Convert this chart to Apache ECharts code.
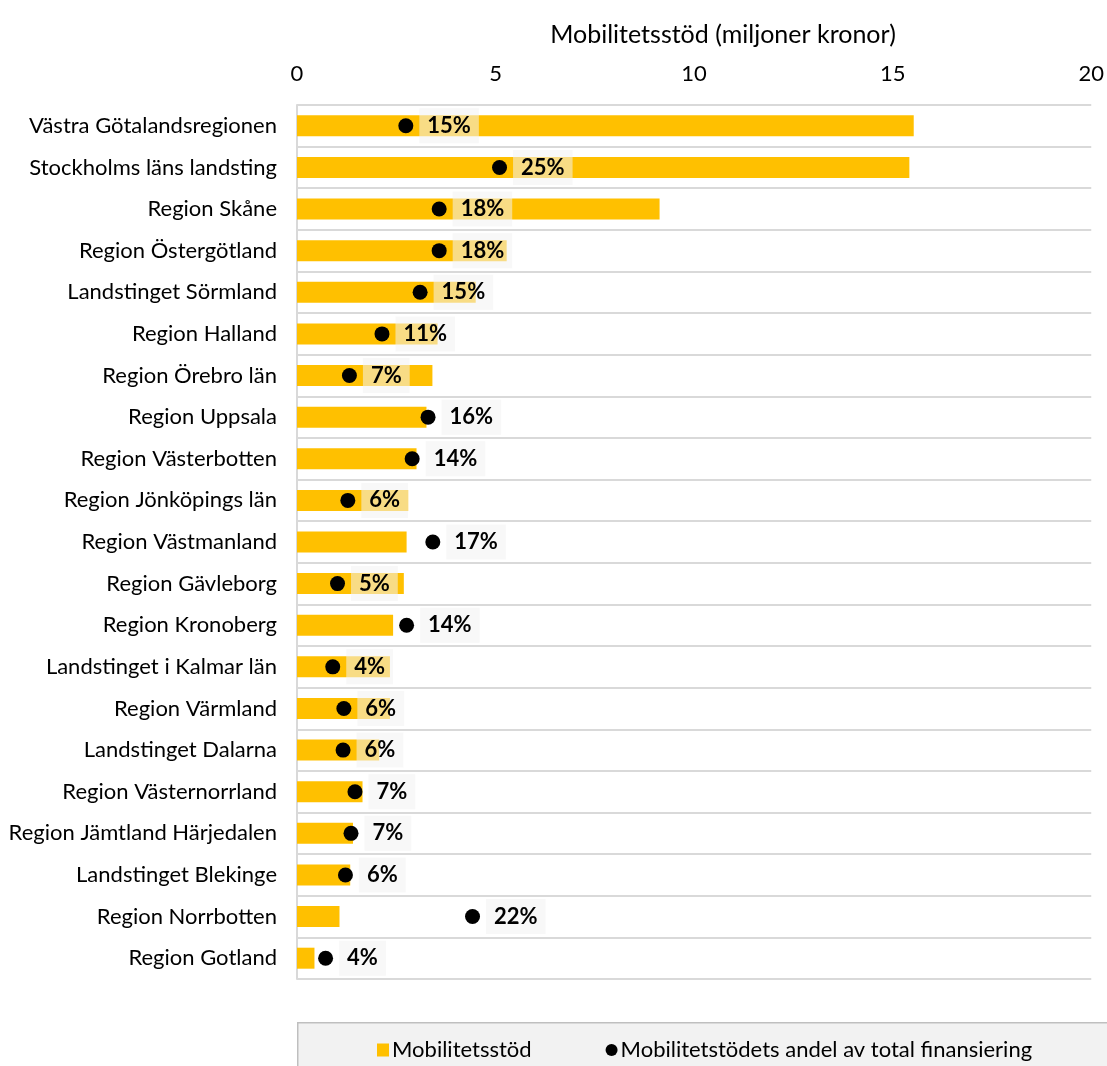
<!DOCTYPE html>
<html>
<head>
<meta charset="utf-8">
<script src="https://cdn.jsdelivr.net/npm/echarts@6/dist/echarts.min.js"></script>
<style>html,body{margin:0;padding:0;background:#fff;}#c{width:1107px;height:1066px;}</style>
</head>
<body>
<div id="c"></div>
<script>
const categories = ["Västra Götalandsregionen","Stockholms läns landsting","Region Skåne","Region Östergötland","Landstinget Sörmland","Region Halland","Region Örebro län","Region Uppsala","Region Västerbotten","Region Jönköpings län","Region Västmanland","Region Gävleborg","Region Kronoberg","Landstinget i Kalmar län","Region Värmland","Landstinget Dalarna","Region Västernorrland","Region Jämtland Härjedalen","Landstinget Blekinge","Region Norrbotten","Region Gotland"];
const stod = [15.53,15.42,9.13,5.28,4.50,3.54,3.41,3.26,3.01,2.80,2.76,2.69,2.42,2.34,2.34,2.07,1.65,1.41,1.34,1.07,0.44];
const andel = [13.7,25.5,17.9,17.9,15.5,10.7,6.6,16.5,14.5,6.4,17.1,5.1,13.8,4.5,5.9,5.8,7.3,6.8,6.1,22.1,3.6];
const andelLabels = ["15%","25%","18%","18%","15%","11%","7%","16%","14%","6%","17%","5%","14%","4%","6%","6%","7%","7%","6%","22%","4%"];
const xTicks = [0,5,10,15,20];
const FONT = 'Lato';

const chart = echarts.init(document.getElementById('c'), null, {renderer:'canvas'});
chart.setOption({
  backgroundColor:'#fff',
  animation:false,
  textStyle:{fontFamily:FONT},
  title:{text:'Mobilitetsstöd (miljoner kronor)', left:718, top:17, textAlign:'center',
    textStyle:{fontFamily:FONT, fontSize:25, fontWeight:'normal', color:'#000'}},
  grid:{left:297, right:15, top:105, bottom:87, containLabel:false},
  graphic:[{type:'rect', left:297, top:1022, shape:{width:820, height:60},
    style:{fill:'#F2F2F2', stroke:'#BFBFBF', lineWidth:1.5}, z:-1}],
  legend:{left:372, top:1034, itemWidth:12, itemHeight:13, itemGap:74,
    textStyle:{fontFamily:FONT, fontSize:22, color:'#000', padding:[0,0,0,-2]},
    data:[{name:'Mobilitetsstöd', icon:'rect'},{name:'Mobilitetstödets andel av total finansiering', icon:'circle'}]},
  xAxis:[{type:'value', position:'top', min:xTicks[0], max:xTicks[xTicks.length-1], interval:5,
    axisLine:{show:false}, axisTick:{show:false}, splitLine:{show:false},
    axisLabel:{fontFamily:FONT, fontSize:22, color:'#000', margin:20}},
    {type:'value', position:'top', min:0, max:100, show:false}],
  yAxis:{type:'category', inverse:true, data:categories,
    axisLine:{show:true, lineStyle:{color:'#D9D9D9', width:2}},
    axisTick:{show:false},
    splitLine:{show:true, lineStyle:{color:'#D9D9D9', width:2}},
    axisLabel:{fontFamily:FONT, fontSize:22, color:'#000', margin:20}},
  series:[
    {name:'Mobilitetsstöd', type:'bar', data:stod, xAxisIndex:0, barWidth:21,
      itemStyle:{color:'#FFC000'}, z:2},
    {name:'Mobilitetstödets andel av total finansiering', type:'scatter', data:andel, xAxisIndex:1,
      symbol:'circle', symbolSize:15, itemStyle:{color:'#000', opacity:1}, z:5,
      label:{show:true, position:'right', distance:6,
        formatter:p=>andelLabels[p.dataIndex],
        fontFamily:FONT, fontSize:22, fontWeight:'bold', color:'#000',
        backgroundColor:'rgba(242,242,242,0.55)', padding:[6,8,6,8], lineHeight:23}}
  ]
});
</script>
</body>
</html>
